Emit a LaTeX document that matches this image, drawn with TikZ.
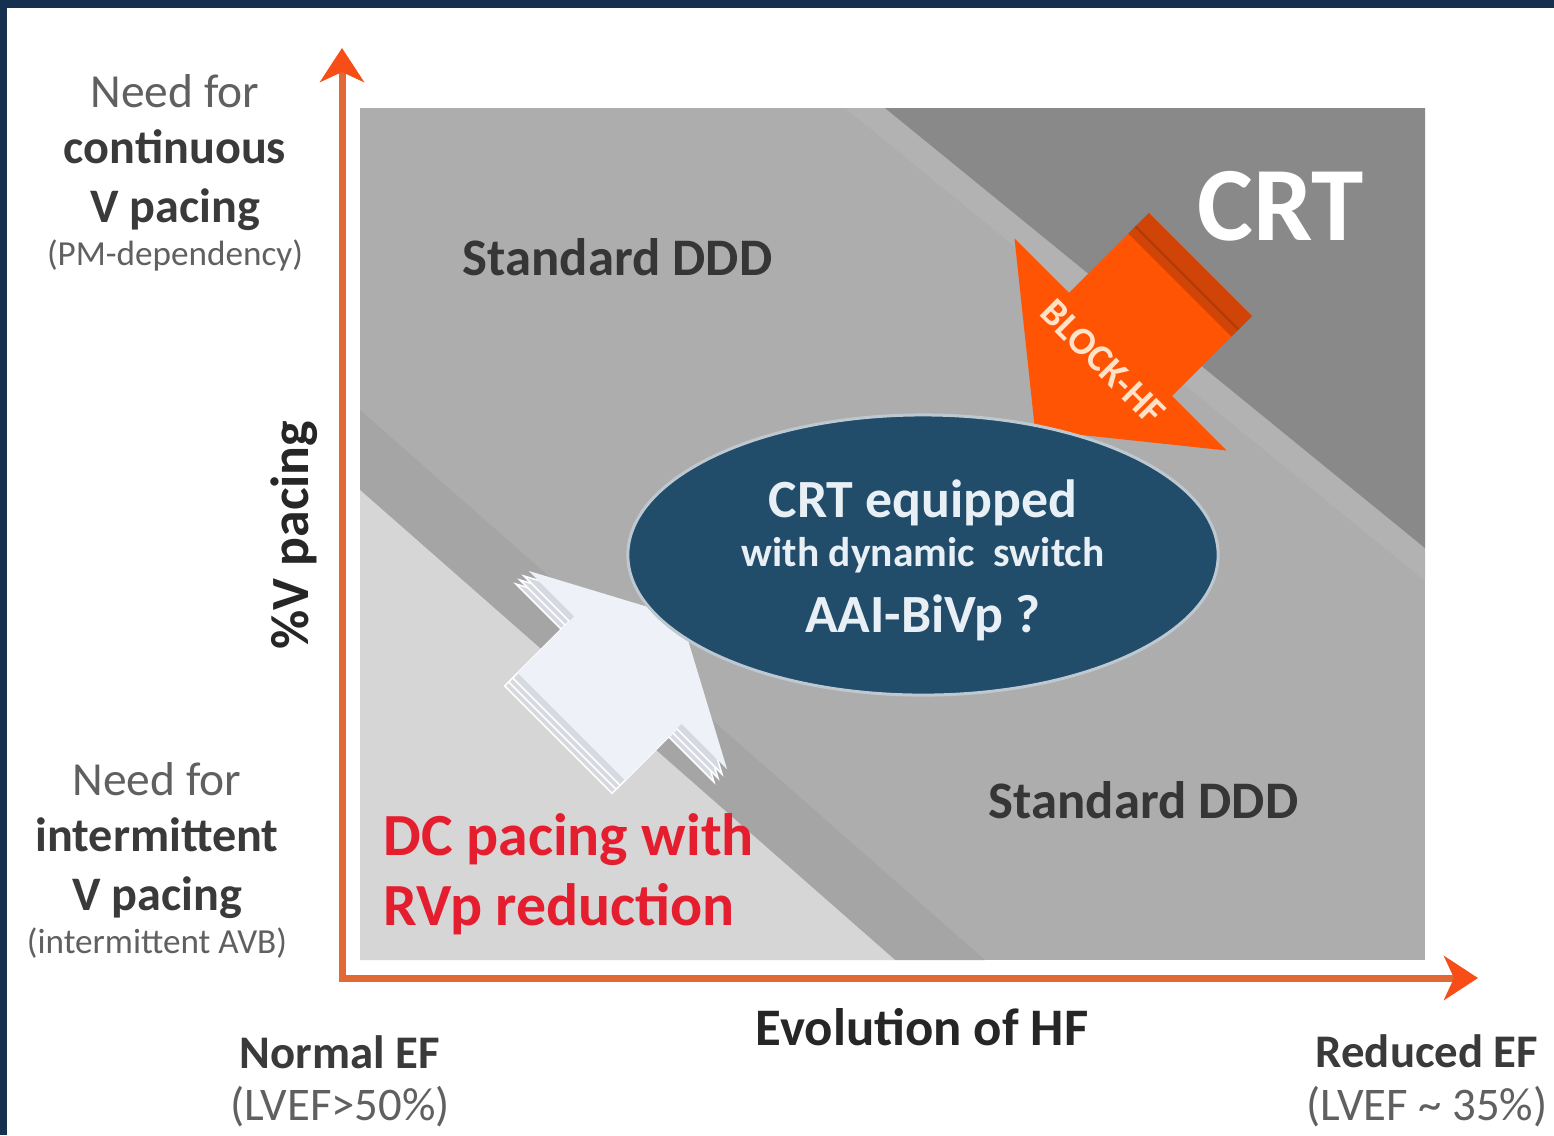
\documentclass[tikz,border=0pt]{standalone}
\usepackage{fontspec}
\setmainfont{Carlito}
\usepackage{xcolor}
\usepackage{tikz}
\usetikzlibrary{arrows.meta, shapes.geometric}

\definecolor{framenavy}{RGB}{22,48,80}
\definecolor{axisorange}{RGB}{226,104,52}
\definecolor{tiporange}{RGB}{246,78,22}
\definecolor{zonemid}{RGB}{173,173,173}
\definecolor{zonedark}{RGB}{137,137,137}
\definecolor{zonesheen}{RGB}{178,178,178}
\definecolor{zoneshade}{RGB}{165,165,165}
\definecolor{zonelight}{RGB}{214,214,214}
\definecolor{ovalblue}{RGB}{33,76,106}
\definecolor{ovalrim}{RGB}{190,200,208}
\definecolor{ovaltext}{RGB}{232,240,246}
\definecolor{blockorange}{RGB}{255,84,4}
\definecolor{blockside}{RGB}{208,68,8}
\definecolor{blocktext}{RGB}{255,226,200}
\definecolor{dcwhite}{RGB}{238,242,248}
\definecolor{dclayer}{RGB}{214,218,224}
\definecolor{dcred}{RGB}{228,30,46}
\definecolor{labeldark}{RGB}{58,58,58}
\definecolor{labelgray}{RGB}{96,96,96}
\definecolor{zonetext}{RGB}{54,54,54}

\tikzstyle{axisline}  = [line width=0.07cm, draw=axisorange,
    -{Stealth[length=0.34cm, width=0.44cm, inset=0.1cm, color=tiporange]}]
\tikzstyle{sidebold}  = [anchor=base, inner sep=0pt, text=labeldark,
    font=\fontsize{13.7}{16}\selectfont\bfseries]
\tikzstyle{sidereg}   = [sidebold, text=labelgray, font=\fontsize{13.5}{16}\selectfont]
\tikzstyle{sidenote}  = [sidebold, text=labelgray, font=\fontsize{10}{12}\selectfont]
\tikzstyle{efbold}    = [sidebold, font=\fontsize{13.3}{16}\selectfont\bfseries]
\tikzstyle{efnote}    = [sidebold, text=labelgray, font=\fontsize{13.3}{16}\selectfont]
\tikzstyle{zonelabel} = [anchor=base west, inner sep=0pt, text=zonetext,
    font=\fontsize{15}{18}\selectfont\bfseries]
\tikzstyle{dclabel}   = [zonelabel, text=dcred, font=\fontsize{17}{20}\selectfont\bfseries]
\tikzstyle{ovalline}  = [anchor=base, inner sep=0pt, text=ovaltext,
    font=\fontsize{15.3}{18}\selectfont\bfseries]

\begin{document}
\begin{tikzpicture}[x=0.01cm, y=-0.01cm]
  \useasboundingbox (0,0) rectangle (1554,1135);
  \fill[white] (0,0) rectangle (1554,1135);
  \fill[framenavy] (0,0) rectangle (1554,8);
  \fill[framenavy] (0,0) rectangle (7,1135);

  % Zones
  \fill[zonemid]   (360,108) rectangle (1425,960);
  \fill[zonesheen] (845,108) -- (885,108) -- (1425,548) -- (1425,581) -- cycle;
  \fill[zonedark]  (885,108) -- (1425,108) -- (1425,548) -- cycle;
  \fill[zoneshade] (360,410) -- (360,490) -- (895,960) -- (985,960) -- cycle;
  \fill[zonelight] (360,490) -- (360,960) -- (895,960) -- cycle;

  % Axes
  \coordinate (yfoot) at (342,981.5);
  \coordinate (ytop)  at (342,48);
  \coordinate (xfoot) at (338.5,978);
  \coordinate (xend)  at (1478,978);
  \draw[axisline] (yfoot) -- (ytop);
  \draw[axisline] (xfoot) -- (xend);

  % BLOCK-HF arrow
  \fill[blockorange] (1035,430) -- (1226.7,450.5) -- (1172.2,396) -- (1252.1,316.1)
    -- (1148.9,212.9) -- (1069,292.8) -- (1014.5,238.3) -- cycle;
  \fill[blockside] (1128.4,233.4) -- (1148.9,212.9) -- (1252.1,316.1) -- (1231.6,336.6) -- cycle;
  \draw[blockorange!70!black, line width=0.02cm] (1135.4,226.4) -- (1238.6,329.6);
  \node[rotate=-45, text=blocktext, inner sep=0pt,
    font=\fontsize{11}{13}\selectfont\bfseries] (blockhf) at (1103,362) {BLOCK-HF};

  % DC pacing arrow
  \foreach \k in {13,9,5} {
    \filldraw[fill=dclayer, draw=white, line width=0.015cm, shift={(-\k,\k)}]
      (681,617) -- (727,769) -- (681.7,723.7) -- (625.1,780.3) -- (517.7,672.9)
      -- (574.3,616.3) -- (529,571) -- cycle;
  }
  \fill[dcwhite] (681,617) -- (727,769) -- (681.7,723.7) -- (625.1,780.3) -- (517.7,672.9)
    -- (574.3,616.3) -- (529,571) -- cycle;

  % Oval
  \node[ellipse, fill=ovalblue, draw=ovalrim, line width=0.03cm,
    minimum width=5.9cm, minimum height=2.8cm, inner sep=0pt] (oval) at (923,555) {};
  \node[ovalline] (ovtitle) at (923,517) {CRT equipped};
  \node[ovalline, font=\fontsize{11.8}{14}\selectfont\bfseries] (ovsub) at (923,566) {with dynamic~ switch};
  \node[ovalline] (ovmode) at (923,632) {AAI-BiVp ?};

  % Zone labels
  \node[zonelabel] (dddtop) at (462,275) {Standard DDD};
  \node[zonelabel] (dddlow) at (988,818) {Standard DDD};
  \node[anchor=base west, inner sep=0pt, text=white,
    font=\fontsize{30}{34}\selectfont\bfseries] (crt) at (1197,240) {CRT};
  \node[dclabel] (dcone) at (383,855) {DC pacing with};
  \node[dclabel] (dctwo) at (383,925) {RVp reduction};

  % Vertical axis labels
  \node[sidereg]  (needtop) at (175,107) {Need for};
  \node[sidebold] (conttop) at (175,163) {continuous};
  \node[sidebold] (vptop)   at (175,222) {V pacing};
  \node[sidenote] (pmdep)   at (175,265) {(PM-dependency)};
  \node[sidebold, rotate=90, text=black!85,
    font=\fontsize{15.3}{18}\selectfont\bfseries] (vpct) at (308,535) {\%V pacing};
  \node[sidereg]  (needlow) at (157,795) {Need for};
  \node[sidebold] (intlow)  at (157,851) {intermittent};
  \node[sidebold] (vplow)   at (157,910) {V pacing};
  \node[sidenote] (avb)     at (157,953) {(intermittent AVB)};

  % Horizontal axis labels
  \node[efbold] (normef)  at (340,1068) {Normal EF};
  \node[efnote] (normval) at (340,1120) {(LVEF>50\%)};
  \node[efbold, text=black!85, font=\fontsize{15}{18}\selectfont\bfseries] (evol) at (922,1045) {Evolution of HF};
  \node[efbold] (redef)   at (1427,1067) {Reduced EF};
  \node[efnote] (redval)  at (1427,1120) {(LVEF \textasciitilde{} 35\%)};
\end{tikzpicture}
\end{document}
